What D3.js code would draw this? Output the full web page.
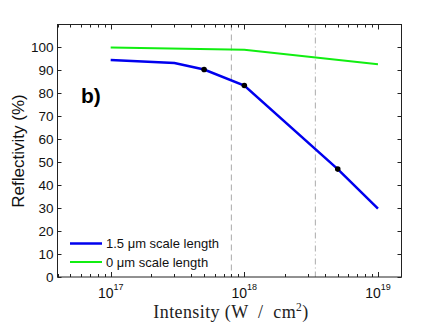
<!DOCTYPE html>
<html><head><meta charset="utf-8">
<script src="https://cdn.jsdelivr.net/npm/d3@7"></script>
<style>body{margin:0;background:#fff;} svg{display:block;} text{white-space:pre;}</style>
</head><body>
<script>
const blueX = [1e17, 3e17, 5e17, 1e18, 5e18, 1e19];
const blueY = [94.5, 93.2, 90.4, 83.4, 47.0, 29.8];
const greenX = [1e17, 1e18, 1e19];
const greenY = [100, 99, 92.7];
const dotX = [5e17, 1e18, 5e18];
const dotY = [90.4, 83.4, 47.0];
const dashedX = [8e17];
const dashDotX = [3.4e18];
const yTicks = [0,10,20,30,40,50,60,70,80,90,100];
const xMajor = [1e17, 1e18, 1e19];
const xMajorExp = ["17","18","19"];
const seriesNames = ["1.5 \u03bcm scale length", "0 \u03bcm scale length"];

const W = 443, H = 334;
const L = 57.5, R = 401.5, T = 24.5, B = 277;
const svg = d3.select("body").append("svg").attr("width", W).attr("height", H);
const x = d3.scaleLog().domain([4e16, 1.5e19]).range([L, R]);
const y = d3.scaleLinear().domain([0, 110]).range([B, T]);
const sans = "Liberation Sans, Arial, Helvetica, sans-serif";

// vertical reference lines
dashedX.forEach(v => svg.append("line").attr("x1", x(v)).attr("x2", x(v)).attr("y1", T).attr("y2", B)
  .attr("stroke", "#aaa").attr("stroke-width", 1).attr("stroke-dasharray", "6,4"));
dashDotX.forEach(v => svg.append("line").attr("x1", x(v)).attr("x2", x(v)).attr("y1", T).attr("y2", B)
  .attr("stroke", "#aaa").attr("stroke-width", 1).attr("stroke-dasharray", "6,3,1,3"));

// ticks
const g = svg.append("g").attr("stroke", "#222").attr("stroke-width", 1);
yTicks.forEach(t => {
  const yy = Math.round(y(t)) + 0.5;
  g.append("line").attr("x1", L).attr("x2", L + 4).attr("y1", yy).attr("y2", yy);
  g.append("line").attr("x1", R - 4).attr("x2", R).attr("y1", yy).attr("y2", yy);
});
const minor = [];
for (let e = 16; e <= 19; e++) for (let m = 1; m <= 9; m++) {
  const v = m * Math.pow(10, e);
  if (v >= 4e16 && v <= 1.5e19) minor.push({v, major: m === 1});
}
minor.forEach(d => {
  const xx = Math.round(x(d.v)) + 0.5;
  const len = d.major ? 5 : 3;
  g.append("line").attr("x1", xx).attr("x2", xx).attr("y1", B).attr("y2", B - len);
  g.append("line").attr("x1", xx).attr("x2", xx).attr("y1", T).attr("y2", T + len);
});

// frame
svg.append("rect").attr("x", L).attr("y", T).attr("width", R - L).attr("height", B - T)
  .attr("fill", "none").attr("stroke", "#222").attr("stroke-width", 1);

// y tick labels
svg.append("g").selectAll("text").data(yTicks).join("text")
  .attr("x", L - 4).attr("y", d => y(d) + 4.7).attr("text-anchor", "end")
  .attr("font-family", sans).attr("font-size", 13.5).attr("fill", "#111").text(d => d);

// x tick labels
xMajor.forEach((v, i) => {
  const t = svg.append("text").attr("x", x(v)).attr("y", 298).attr("text-anchor", "middle")
    .attr("font-family", sans).attr("font-size", 14).attr("fill", "#111");
  t.append("tspan").text("10");
  t.append("tspan").attr("dy", -8.5).attr("font-size", 9).text(xMajorExp[i]);
});

// lines
const line = d3.line().x(d => x(d[0])).y(d => y(d[1]));
svg.append("path").datum(greenX.map((v, i) => [v, greenY[i]])).attr("d", line)
  .attr("fill", "none").attr("stroke", "#11ee11").attr("stroke-width", 2);
svg.append("path").datum(blueX.map((v, i) => [v, blueY[i]])).attr("d", line)
  .attr("fill", "none").attr("stroke", "#0000ee").attr("stroke-width", 2.5);
svg.append("g").selectAll("circle").data(dotX.map((v, i) => [v, dotY[i]])).join("circle")
  .attr("cx", d => x(d[0])).attr("cy", d => y(d[1])).attr("r", 2.8).attr("fill", "#000");

// panel label
svg.append("text").attr("x", 81).attr("y", 103).attr("font-family", sans).attr("font-weight", "bold")
  .attr("font-size", 21).attr("fill", "#000").text("b)");

// legend
const leg = [[243.5, "#0000ee", 2.5], [262, "#11ee11", 2]];
leg.forEach((d, i) => {
  svg.append("line").attr("x1", 70).attr("x2", 102).attr("y1", d[0]).attr("y2", d[0])
    .attr("stroke", d[1]).attr("stroke-width", d[2]);
  svg.append("text").attr("x", 106).attr("y", d[0] + 4.5).attr("font-family", sans).attr("font-size", 13)
    .attr("fill", "#111").text(seriesNames[i]);
});

// axis titles
svg.append("text").attr("transform", "translate(24,151) rotate(-90)").attr("text-anchor", "middle")
  .attr("font-family", sans).attr("font-size", 17).attr("fill", "#111").text("Reflectivity (%)");
const xt = svg.append("text").attr("x", 231).attr("y", 318).attr("text-anchor", "middle")
  .attr("font-family", "Liberation Serif, DejaVu Serif, serif").attr("font-size", 18).attr("letter-spacing", 0.4).attr("fill", "#222");
xt.append("tspan").text("Intensity (W  /  cm");
xt.append("tspan").attr("dy", -7).attr("font-size", 11.5).text("2");
xt.append("tspan").attr("dy", 7).text(")");
</script>
</body></html>
